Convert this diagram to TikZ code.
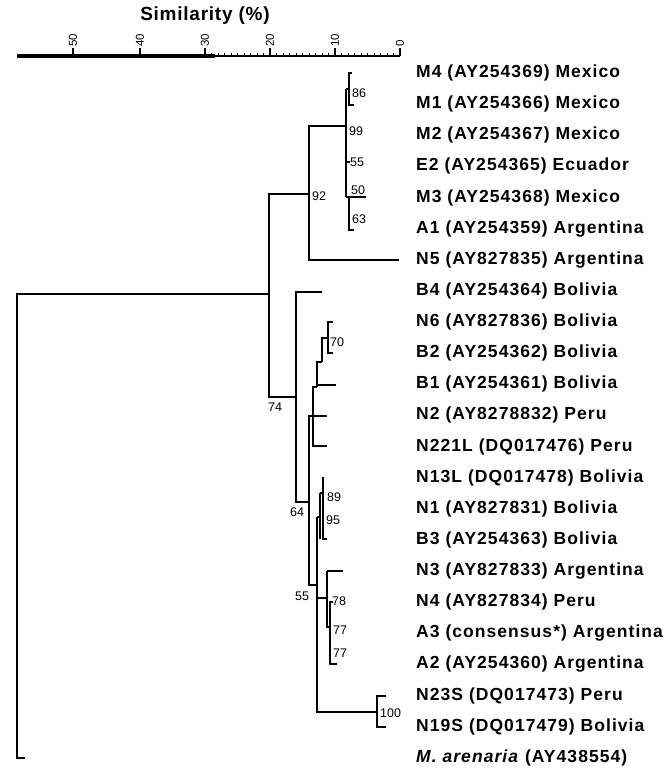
\documentclass[tikz,border=0pt]{standalone}
\usepackage{fontspec}
\setmainfont{Liberation Sans}
\newfontfamily\labfont[LetterSpace=6]{Liberation Sans}
\newfontfamily\titfont[LetterSpace=4]{Liberation Sans}
\begin{document}
\begin{tikzpicture}[x=1pt,y=-1pt,line join=miter,
  br/.style={line width=2.8pt},
  tn/.style={line width=1.8pt},
  lab/.style={anchor=west,inner sep=0pt,font=\labfont\bfseries\fontsize{17.5}{19}\selectfont},
  bs/.style={anchor=west,inner sep=0pt,font=\fontsize{12.5}{14}\selectfont},
  axl/.style={rotate=90,anchor=west,inner sep=0pt,font=\fontsize{11.5}{12}\selectfont}]
\useasboundingbox (0,0) rectangle (670,770);
% title and axis
\node[font=\titfont\bfseries\fontsize{19}{21}\selectfont,inner sep=0pt] (title) at (205,16) {Similarity (\%)};
\coordinate (axL) at (17,56);
\coordinate (axM) at (215,56);
\coordinate (axR) at (400,56);
\draw[line width=3.2pt] (axL) -- (axM);
\draw[line width=1.4pt] (axM) -- (axR);
\foreach \v in {1,...,29}{\draw[line width=0.7pt] (400-6.5*\v,56) -- ++(0,-2.5);}
\foreach \xx/\t in {73/50,140/40,205/30,270/20,335/10,400/0}{
  \draw[line width=1.1pt] (\xx,56) -- (\xx,48);
  \node[axl] (ax\t) at (\xx,47) {\t};}
% leaf labels
\foreach \i/\t in {0/{M4 (AY254369) Mexico},1/{M1 (AY254366) Mexico},2/{M2 (AY254367) Mexico},
  3/{E2 (AY254365) Ecuador},4/{M3 (AY254368) Mexico},5/{A1 (AY254359) Argentina},
  6/{N5 (AY827835) Argentina},7/{B4 (AY254364) Bolivia},8/{N6 (AY827836) Bolivia},
  9/{B2 (AY254362) Bolivia},10/{B1 (AY254361) Bolivia},11/{N2 (AY8278832) Peru},
  12/{N221L (DQ017476) Peru},13/{N13L (DQ017478) Bolivia},14/{N1 (AY827831) Bolivia},
  15/{B3 (AY254363) Bolivia},16/{N3 (AY827833) Argentina},17/{N4 (AY827834) Peru},
  18/{A3 (consensus*) Argentina},19/{A2 (AY254360) Argentina},20/{N23S (DQ017473) Peru},
  21/{N19S (DQ017479) Bolivia},22/{\textit{M. arenaria} (AY438554)}}{
  \node[lab] (L\i) at (416,73+31.13*\i) {\t};}
% root
\draw[br] (25,758) -| (17,294) -- (269,294);
\draw[br] (309,194) -| (269,397) -- (296,397);
% upper cluster
\draw[br] (346,126) -| (309,260) -- (399,260);
\draw[br] (346,89) -- (346,197);
\draw[tn] (352,73) -| (349,105) -- (354,105);
\draw[tn] (346,89) -- (349,89);
\draw[tn] (346,162) -- (350,162);
\draw[br] (346,197) -- (366,197);
\draw[tn] (349,197) |- (354,230);
% lower cluster
\draw[br] (322,292) -| (296,502) -- (309,502);
\draw[br] (327,416) -| (309,585) -- (317,585);
\draw[tn] (333,322) -| (328,353) -- (333,353);
\draw[tn] (328,338) -| (322,362);
\draw[br] (322,362) -| (317,387);
\draw[br] (336,385) -- (317,385);
\draw[br] (317,387) -| (313,446) -- (327,446);
\draw[br] (317,517) -- (317,712) -- (377,712);
\draw[br] (317,517) -- (320,517);
\draw[br] (320,493) -- (320,539);
\draw[tn] (323,477) |- (327,539);
\draw[tn] (320,493) -- (323,493);
\draw[tn] (317,598) -- (327,598);
\draw[br] (343,571) -- (327,571);
\draw[tn] (327,571) |- (330,627);
\draw[tn] (333,602) -| (330,664) -- (337,664);
\draw[tn] (386,696) -| (377,727) -- (386,727);
% bootstrap values
\node[bs] (b86) at (352,93) {86};
\node[bs] (b99) at (349,131) {99};
\node[bs] (b55a) at (350,162) {55};
\node[bs] (b50) at (351,190) {50};
\node[bs] (b63) at (352,219) {63};
\node[bs] (b92) at (312,196) {92};
\node[bs] (b70) at (330,342) {70};
\node[bs] (b74) at (268,407) {74};
\node[bs] (b64) at (290,512) {64};
\node[bs] (b89) at (327,497) {89};
\node[bs] (b95) at (326,520) {95};
\node[bs] (b55b) at (295,596) {55};
\node[bs] (b78) at (332,601) {78};
\node[bs] (b77a) at (333,630) {77};
\node[bs] (b77b) at (333,653) {77};
\node[bs] (b100) at (380,713) {100};
\end{tikzpicture}
\end{document}
